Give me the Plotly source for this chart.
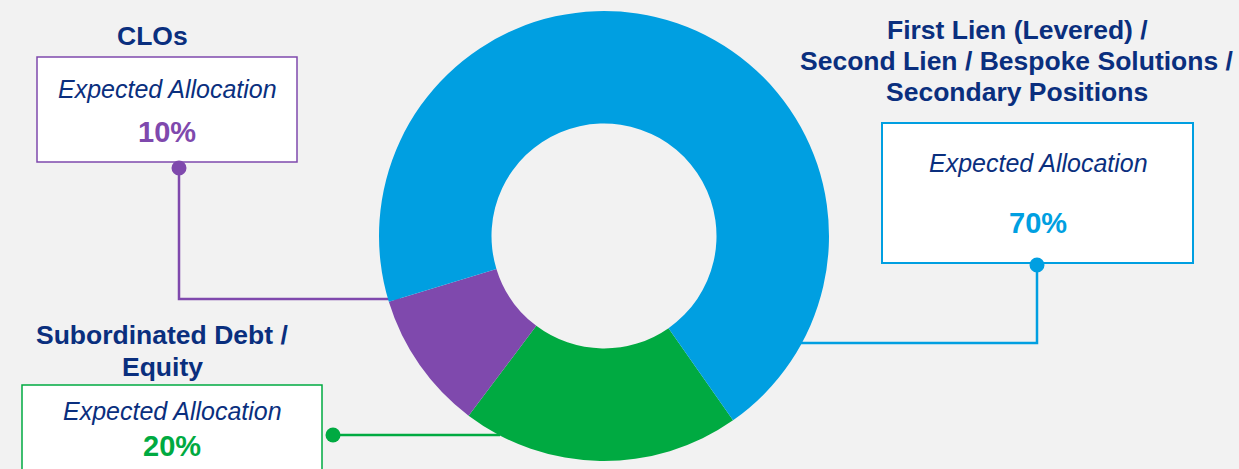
import plotly.graph_objects as go

# ---- data ----
categories = ["Subordinated Debt / Equity", "CLOs",
              "First Lien (Levered) / Second Lien / Bespoke Solutions / Secondary Positions"]
values = [20, 10, 70]
pct_labels = ["20%", "10%", "70%"]
colors = ["#00AA41", "#7F49AD", "#009FE1"]
title_lines = [["Subordinated Debt /", "Equity"],
               ["CLOs"],
               ["First Lien (Levered) /", "Second Lien / Bespoke Solutions /", "Secondary Positions"]]
sub_label = "Expected Allocation"

W, H = 1239, 469
NAVY = "#0A2F7E"
BG = "#F2F2F2"
FONT = "Liberation Sans, Arial, sans-serif"

fig = go.Figure()

# donut: centre (604,236), radius 225 px
cx, cy, r = 604, 236, 225
fig.add_trace(go.Pie(
    values=values, labels=categories, sort=False, direction="clockwise",
    rotation=145, hole=0.5, marker=dict(colors=colors, line=dict(width=0)),
    textinfo="none", hoverinfo="label+percent", showlegend=False,
    domain=dict(x=[(cx - r) / W, (cx + r) / W], y=[1 - (cy + r) / H, 1 - (cy - r) / H]),
))

# layout geometry (pixels) for callout boxes, connectors and titles
boxes = [
    dict(x0=22, x1=322, y0=385, y1=480, bw=1.5,
         sub_y=411, pct_y=446, cx=172,
         title_x=162, title_y=[335, 367],
         path=[(333, 435), (500, 435)], dot=(333, 435)),
    dict(x0=37, x1=297, y0=57, y1=162, bw=1.5,
         sub_y=89, pct_y=132, cx=167,
         title_x=152, title_y=[36],
         path=[(179, 168), (179, 299), (400, 299)], dot=(179, 168)),
    dict(x0=882, x1=1193, y0=123, y1=263, bw=2,
         sub_y=163, pct_y=223, cx=1038,
         title_x=1017, title_y=[30, 61, 92],
         path=[(1037, 265), (1037, 343), (790, 343)], dot=(1037, 265)),
]

shapes = []
annotations = []
for i, b in enumerate(boxes):
    col = colors[i]
    # connector
    pts = b["path"]
    d = "M " + " L ".join(f"{x},{y}" for x, y in pts)
    shapes.append(dict(type="path", path=d, xref="x", yref="y", layer="below",
                       line=dict(color=col, width=2.5)))
    # box
    shapes.append(dict(type="rect", xref="x", yref="y", layer="below",
                       x0=b["x0"], x1=b["x1"], y0=b["y0"], y1=b["y1"],
                       fillcolor="white", line=dict(color=col, width=b["bw"])))
    # dot
    dx, dy = b["dot"]
    shapes.append(dict(type="circle", xref="x", yref="y", layer="above",
                       x0=dx - 7.5, x1=dx + 7.5, y0=dy - 7.5, y1=dy + 7.5,
                       fillcolor=col, line=dict(width=0)))
    # texts
    annotations.append(dict(x=b["cx"], y=b["sub_y"], xref="x", yref="y", text=f"<i>{sub_label}</i>",
                            showarrow=False, xanchor="center", yanchor="middle",
                            font=dict(family=FONT, size=25, color=NAVY)))
    annotations.append(dict(x=b["cx"], y=b["pct_y"], xref="x", yref="y", text=f"<b>{pct_labels[i]}</b>",
                            showarrow=False, xanchor="center", yanchor="middle",
                            font=dict(family=FONT, size=29, color=col)))
    for line, ty in zip(title_lines[i], b["title_y"]):
        annotations.append(dict(x=b["title_x"], y=ty, xref="x", yref="y", text=f"<b>{line}</b>",
                                showarrow=False, xanchor="center", yanchor="middle",
                                font=dict(family=FONT, size=26.5, color=NAVY)))

fig.update_layout(
    width=W, height=H, margin=dict(l=0, r=0, t=0, b=0),
    paper_bgcolor=BG, plot_bgcolor="rgba(0,0,0,0)",
    xaxis=dict(range=[0, W], visible=False, fixedrange=True),
    yaxis=dict(range=[H, 0], visible=False, fixedrange=True),
    shapes=shapes, annotations=annotations, showlegend=False,
)

fig.write_html("out.html")
